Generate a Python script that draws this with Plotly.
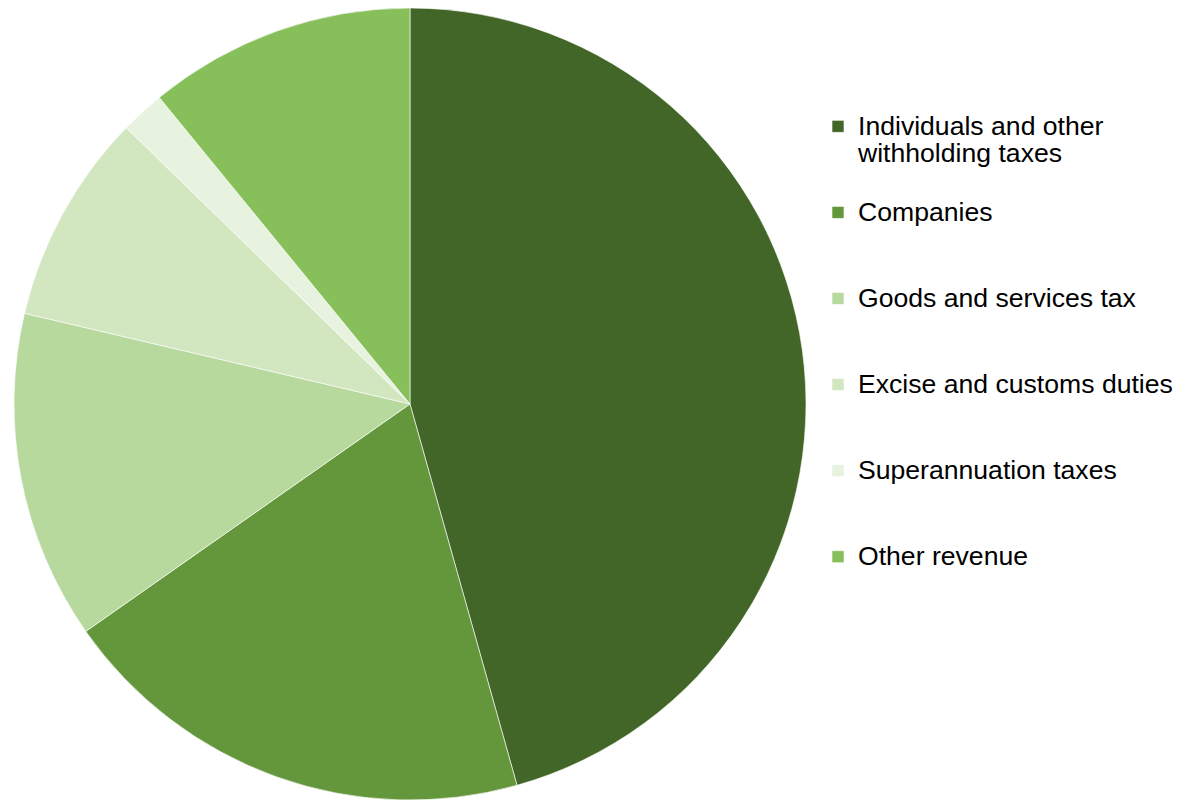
import plotly.graph_objects as go

names = ["Individuals and other<br>withholding taxes", "Companies", "Goods and services tax",
         "Excise and customs duties", "Superannuation taxes", "Other revenue"]
values = [45.6, 19.6, 13.4, 8.6, 1.8, 10.9]
colors = ["#426628", "#64973b", "#b7d99e", "#d2e6c0", "#e8f3df", "#87bf5a"]

# pad each legend entry to three lines so entries are evenly spaced like the original
labels = []
for n in names:
    nlines = n.count("<br>") + 1
    labels.append("<span style='font-size:26.6px'>" + n + "</span>" + "<br> " * (3 - nlines))

W, H = 1189, 800
fig = go.Figure(go.Pie(
    labels=labels, values=values, sort=False, direction="clockwise", rotation=0,
    marker=dict(colors=colors, line=dict(color="white", width=0.6)),
    textinfo="none", hoverinfo="percent",
    domain=dict(x=[13 / W, 807 / W], y=[0, 0.99]),
))
fig.update_layout(
    width=W, height=H, margin=dict(l=0, r=0, t=0, b=0),
    paper_bgcolor="white", plot_bgcolor="white",
    font=dict(family="Liberation Sans, Arial, sans-serif", color="black"),
    legend=dict(x=818 / W, xanchor="left", y=1 - 106 / H, yanchor="top",
                font=dict(size=21.3, color="black"), valign="top",
                tracegroupgap=0, itemclick=False),
    showlegend=True,
)
fig.write_html("out.html")
